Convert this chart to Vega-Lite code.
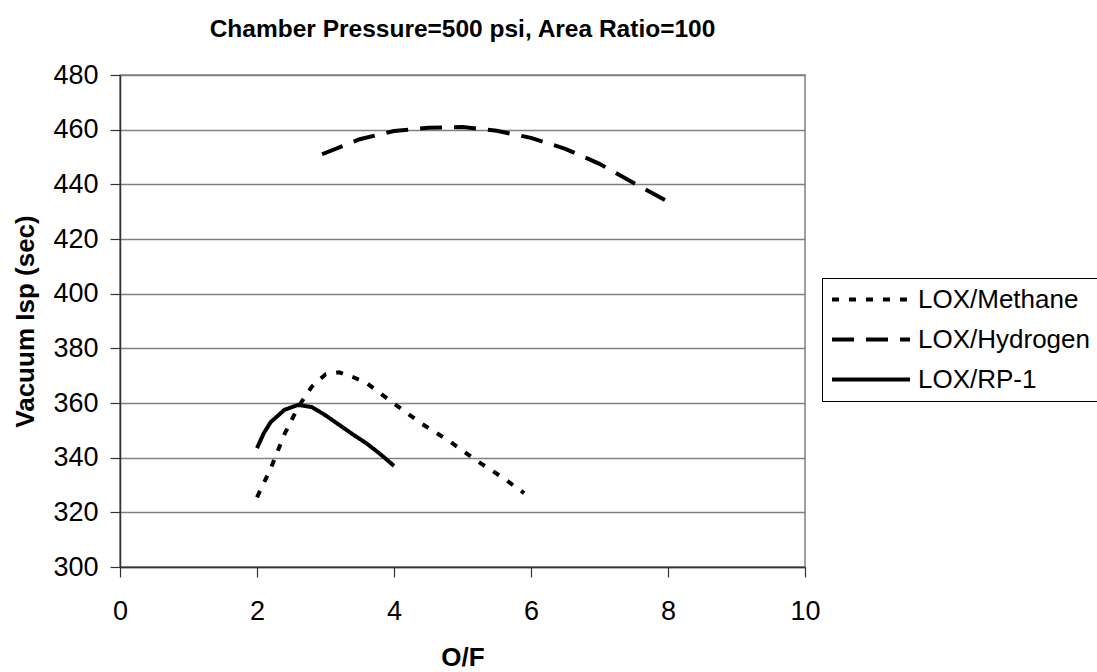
{
  "$schema": "https://vega.github.io/schema/vega-lite/v6.json",
  "width": 685,
  "height": 492,
  "autosize": {"type": "none"},
  "padding": {"left": 120, "top": 75, "right": 292, "bottom": 105},
  "background": "white",
  "title": {
    "text": "Chamber Pressure=500 psi, Area Ratio=100",
    "font": "Liberation Sans",
    "fontSize": 24.5,
    "fontWeight": "bold",
    "color": "black",
    "anchor": "middle",
    "frame": "group",
    "offset": 19
  },
  "config": {
    "view": {"stroke": "#808080", "strokeWidth": 1.5},
    "axis": {
      "labelFont": "Liberation Sans",
      "titleFont": "Liberation Sans",
      "labelFontSize": 27,
      "titleFontSize": 26,
      "labelColor": "black",
      "titleColor": "black",
      "domainColor": "#333333",
      "tickColor": "#333333",
      "domainWidth": 1.5,
      "tickWidth": 1.2,
      "labelFlush": false
    }
  },
  "data": {
    "values": [
      {"fuel": "LOX/Methane", "of": 2.0, "isp": 325.5},
      {"fuel": "LOX/Methane", "of": 2.2, "isp": 336},
      {"fuel": "LOX/Methane", "of": 2.4, "isp": 348.5},
      {"fuel": "LOX/Methane", "of": 2.6, "isp": 358.5},
      {"fuel": "LOX/Methane", "of": 2.8, "isp": 366},
      {"fuel": "LOX/Methane", "of": 3.0, "isp": 370.5},
      {"fuel": "LOX/Methane", "of": 3.2, "isp": 371.2},
      {"fuel": "LOX/Methane", "of": 3.4, "isp": 369.5},
      {"fuel": "LOX/Methane", "of": 3.6, "isp": 367.3},
      {"fuel": "LOX/Methane", "of": 3.8, "isp": 363.5},
      {"fuel": "LOX/Methane", "of": 4.0, "isp": 359.8},
      {"fuel": "LOX/Methane", "of": 4.4, "isp": 352.5},
      {"fuel": "LOX/Methane", "of": 4.8, "isp": 346.2},
      {"fuel": "LOX/Methane", "of": 5.2, "isp": 339},
      {"fuel": "LOX/Methane", "of": 5.6, "isp": 332.5},
      {"fuel": "LOX/Methane", "of": 5.9, "isp": 327},
      {"fuel": "LOX/Hydrogen", "of": 2.95, "isp": 451},
      {"fuel": "LOX/Hydrogen", "of": 3.5, "isp": 456.5},
      {"fuel": "LOX/Hydrogen", "of": 4.0, "isp": 459.5},
      {"fuel": "LOX/Hydrogen", "of": 4.5, "isp": 460.7},
      {"fuel": "LOX/Hydrogen", "of": 5.0, "isp": 461},
      {"fuel": "LOX/Hydrogen", "of": 5.5, "isp": 459.6},
      {"fuel": "LOX/Hydrogen", "of": 6.0, "isp": 457},
      {"fuel": "LOX/Hydrogen", "of": 6.5, "isp": 453},
      {"fuel": "LOX/Hydrogen", "of": 7.0, "isp": 447.5},
      {"fuel": "LOX/Hydrogen", "of": 7.5, "isp": 440.5},
      {"fuel": "LOX/Hydrogen", "of": 8.05, "isp": 433},
      {"fuel": "LOX/RP-1", "of": 2.0, "isp": 343.5},
      {"fuel": "LOX/RP-1", "of": 2.1, "isp": 349},
      {"fuel": "LOX/RP-1", "of": 2.2, "isp": 353},
      {"fuel": "LOX/RP-1", "of": 2.4, "isp": 357.5},
      {"fuel": "LOX/RP-1", "of": 2.6, "isp": 359.3},
      {"fuel": "LOX/RP-1", "of": 2.8, "isp": 358.5},
      {"fuel": "LOX/RP-1", "of": 3.0, "isp": 355.5},
      {"fuel": "LOX/RP-1", "of": 3.2, "isp": 352},
      {"fuel": "LOX/RP-1", "of": 3.4, "isp": 348.5},
      {"fuel": "LOX/RP-1", "of": 3.6, "isp": 345.2},
      {"fuel": "LOX/RP-1", "of": 3.8, "isp": 341.3},
      {"fuel": "LOX/RP-1", "of": 4.0, "isp": 337}
    ]
  },
  "mark": {"type": "line", "color": "black", "strokeWidth": 4},
  "encoding": {
    "x": {
      "field": "of",
      "type": "quantitative",
      "title": "O/F",
      "scale": {"domain": [0, 10], "nice": false},
      "axis": {
        "values": [0, 2, 4, 6, 8, 10],
        "grid": false,
        "tickSize": 10,
        "labelPadding": 21,
        "titlePadding": 20,
        "titleFontWeight": "bold"
      }
    },
    "y": {
      "field": "isp",
      "type": "quantitative",
      "title": "Vacuum Isp (sec)",
      "scale": {"domain": [300, 480], "nice": false, "zero": false},
      "axis": {
        "values": [300, 320, 340, 360, 380, 400, 420, 440, 460, 480],
        "grid": true,
        "gridColor": "#808080",
        "gridWidth": 1.5,
        "tickSize": 10,
        "labelPadding": 12,
        "titlePadding": 14,
        "titleFontWeight": "bold"
      }
    },
    "strokeDash": {
      "field": "fuel",
      "type": "nominal",
      "scale": {
        "domain": ["LOX/Methane", "LOX/Hydrogen", "LOX/RP-1"],
        "range": [[7, 10], [22, 12], [1, 0]]
      },
      "legend": {
        "title": null,
        "orient": "none",
        "legendX": 702,
        "legendY": 203,
        "direction": "vertical",
        "symbolType": "stroke",
        "symbolSize": 6084,
        "symbolStrokeWidth": 4,
        "symbolStrokeColor": "black",
        "labelFont": "Liberation Sans",
        "labelFontSize": 26,
        "labelColor": "black",
        "labelOffset": 6,
        "clipHeight": 27,
        "rowPadding": 13,
        "padding": 8,
        "strokeColor": "black",
        "fillColor": "white",
        "labelLimit": 400
      }
    }
  }
}
